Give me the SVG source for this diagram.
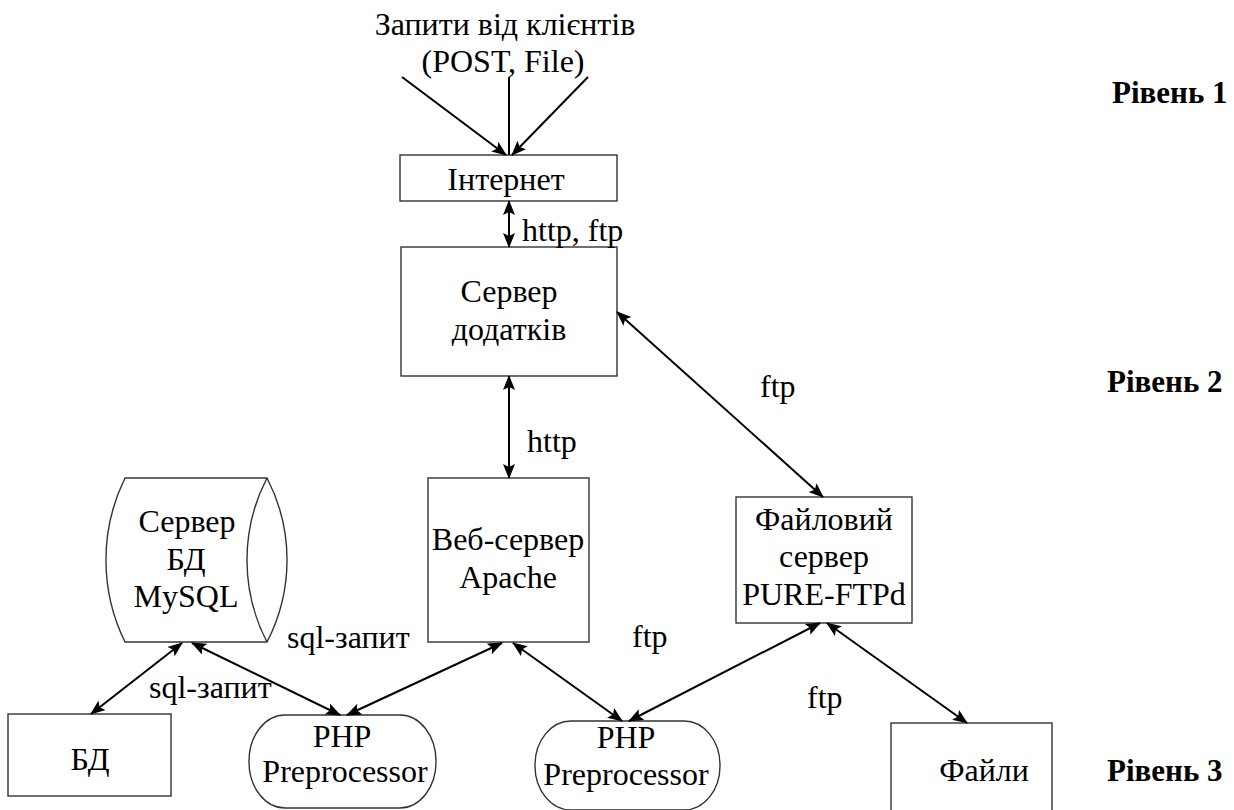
<svg xmlns="http://www.w3.org/2000/svg" width="1234" height="810" viewBox="0 0 1234 810">
<defs>
<marker id="ah" markerUnits="userSpaceOnUse" markerWidth="16" markerHeight="14" refX="14" refY="6" orient="auto-start-reverse">
<path d="M0,0 L15,6 L0,12 L3,6 z" fill="#000"/>
</marker>
<style>
.t{font-family:"Liberation Serif","Times New Roman",serif;font-size:32px;fill:#000}
.c{text-anchor:middle}
.b{font-weight:bold;font-size:31px}
.box{fill:#fff;stroke:#333;stroke-width:1.4}
.ln{stroke:#000;stroke-width:2;fill:none}
.da{marker-start:url(#ah);marker-end:url(#ah)}
.sa{marker-end:url(#ah)}
</style>
</defs>
<rect width="1234" height="810" fill="#fff"/>

<g id="clients">
<text class="t c" x="505" y="35">Запити від клієнтів</text>
<text class="t c" x="503" y="72">(POST, File)</text>
</g>

<g id="internet">
<rect class="box" x="400" y="155" width="217" height="46"/>
<text class="t c" x="506" y="190">Інтернет</text>
</g>

<g id="appserver">
<rect class="box" x="401" y="247" width="216" height="129"/>
<text class="t c" x="509" y="302">Сервер</text>
<text class="t c" x="509" y="340">додатків</text>
</g>

<g id="apache">
<rect class="box" x="428" y="478" width="161" height="164"/>
<text class="t c" x="508" y="550">Веб-сервер</text>
<text class="t c" x="508" y="588">Apache</text>
</g>

<g id="ftpserver">
<rect class="box" x="736" y="497" width="176" height="126"/>
<text class="t c" x="824" y="530">Файловий</text>
<text class="t c" x="824" y="567">сервер</text>
<text class="t c" x="824" y="605">PURE-FTPd</text>
</g>

<g id="mysql">
<path class="box" d="M125,478 L267,478 A178,178 0 0 1 267,642 L125,642 A186,186 0 0 1 125,478 Z"/>
<path class="box" d="M267,478 A178,178 0 0 0 267,642" fill="none"/>
<text class="t c" x="187" y="532">Сервер</text>
<text class="t c" x="186" y="570">БД</text>
<text class="t c" x="186" y="607">MySQL</text>
</g>

<g id="db">
<rect class="box" x="8" y="714" width="163" height="82"/>
<text class="t c" x="90" y="770">БД</text>
</g>

<g id="php1">
<rect class="box" x="249" y="715" width="187" height="93" rx="36" ry="46"/>
<text class="t c" x="342" y="747">PHP</text>
<text class="t c" x="345" y="782">Preprocessor</text>
</g>

<g id="php2">
<rect class="box" x="535" y="721" width="185" height="89" rx="36" ry="44"/>
<text class="t c" x="626" y="748">PHP</text>
<text class="t c" x="626" y="785">Preprocessor</text>
</g>

<g id="files">
<rect class="box" x="891" y="723" width="161" height="100"/>
<text class="t c" x="984" y="781">Файли</text>
</g>

<g id="levels">
<text class="t b" x="1112" y="103">Рівень 1</text>
<text class="t b" x="1107" y="392">Рівень 2</text>
<text class="t b" x="1107" y="781">Рівень 3</text>
</g>

<g id="connectors">
<line class="ln sa" x1="402" y1="77" x2="506" y2="155"/>
<line class="ln" x1="509" y1="77" x2="509" y2="155"/>
<line class="ln sa" x1="588" y1="77" x2="512" y2="155"/>
<line class="ln da" x1="509" y1="201" x2="509" y2="247"/>
<line class="ln da" x1="509" y1="376" x2="509" y2="478"/>
<line class="ln da" x1="617" y1="312" x2="823" y2="497"/>
<line class="ln da" x1="182" y1="643" x2="91" y2="714"/>
<line class="ln da" x1="192" y1="643" x2="340" y2="715"/>
<line class="ln da" x1="502" y1="643" x2="347" y2="715"/>
<line class="ln da" x1="513" y1="643" x2="622" y2="721"/>
<line class="ln da" x1="820" y1="623" x2="629" y2="721"/>
<line class="ln da" x1="827" y1="623" x2="967" y2="723"/>
</g>

<g id="labels">
<text class="t" x="522" y="241">http, ftp</text>
<text class="t" x="527" y="452">http</text>
<text class="t" x="760" y="397">ftp</text>
<text class="t" x="632" y="647">ftp</text>
<text class="t" x="807" y="708">ftp</text>
<text class="t" x="287" y="648">sql-запит</text>
<text class="t" x="149" y="698">sql-запит</text>
</g>
</svg>
